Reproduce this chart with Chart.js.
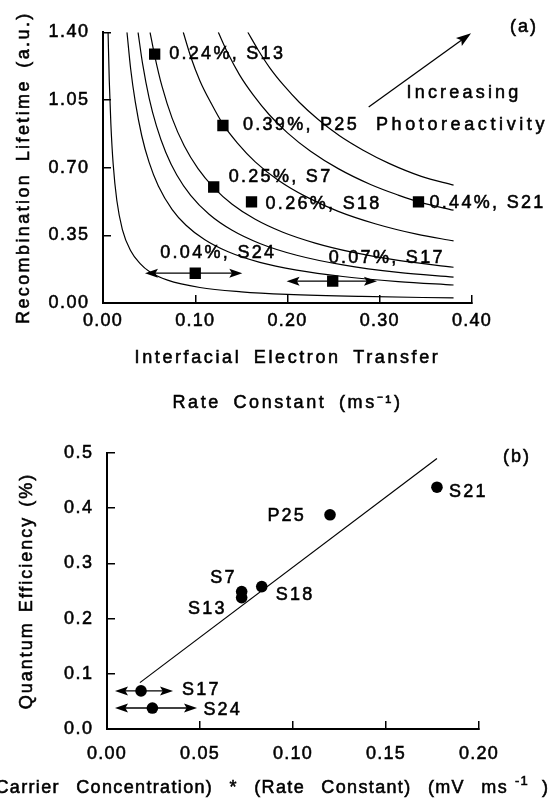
<!DOCTYPE html>
<html><head><meta charset="utf-8">
<script src="https://cdn.jsdelivr.net/npm/chart.js@4.4.1/dist/chart.umd.min.js"></script>
<style>
html,body{margin:0;padding:0;background:#fff;width:552px;height:800px;overflow:hidden;}
#ca{position:absolute;left:0;top:0;}
#cb{position:absolute;left:0;top:420px;}
</style></head><body>
<canvas id="cb" width="552" height="380"></canvas>
<canvas id="ca" width="552" height="430"></canvas>
<script>
// ================= Panel (a) data =================
const aXTicks = [0.00, 0.10, 0.20, 0.30, 0.40];
const aXTickLabels = ['0.00', '0.10', '0.20', '0.30', '0.40'];
const aYTicks = [0.00, 0.35, 0.70, 1.05, 1.40];
const aYTickLabels = ['0.00', '0.35', '0.70', '1.05', '1.40'];

// iso-photoreactivity curves, points [rate constant, lifetime]
const curve1 = [[0.0055,1.40],[0.0068,1.15],[0.0085,0.93],[0.011,0.72],[0.015,0.53],[0.021,0.38],[0.030,0.27],[0.040,0.205],[0.051,0.160],[0.070,0.118],[0.105,0.080],[0.150,0.058],[0.200,0.045],[0.280,0.034],[0.380,0.026]];
const curve2 = [[0.026,1.40],[0.030,1.21],[0.035,1.04],[0.042,0.865],[0.050,0.727],[0.060,0.605],[0.075,0.483],[0.090,0.402],[0.110,0.328],[0.135,0.266],[0.170,0.210],[0.210,0.170],[0.260,0.137],[0.320,0.111],[0.380,0.093]];
const curve3 = [[0.038,1.40],[0.043,1.235],[0.050,1.06],[0.058,0.915],[0.068,0.78],[0.080,0.662],[0.095,0.557],[0.115,0.459],[0.140,0.376],[0.170,0.308],[0.210,0.247],[0.260,0.197],[0.320,0.158],[0.380,0.134]];
const curve4 = [[0.051,1.40],[0.056,1.28],[0.064,1.12],[0.075,0.955],[0.088,0.813],[0.103,0.695],[0.120,0.597],[0.140,0.511],[0.165,0.433],[0.195,0.366],[0.230,0.310],[0.270,0.263],[0.320,0.220],[0.380,0.185]];
const curve5 = [[0.087,1.40],[0.095,1.275],[0.105,1.15],[0.117,1.035],[0.130,0.925],[0.146,0.826],[0.165,0.730],[0.190,0.635],[0.220,0.550],[0.255,0.474],[0.295,0.410],[0.340,0.356],[0.380,0.321]];
const curve6 = [[0.125,1.40],[0.135,1.295],[0.148,1.18],[0.163,1.075],[0.180,0.975],[0.200,0.880],[0.225,0.785],[0.255,0.695],[0.290,0.613],[0.320,0.558],[0.342,0.523],[0.380,0.480]];
const curve7 = [[0.157,1.40],[0.168,1.31],[0.181,1.215],[0.196,1.125],[0.213,1.037],[0.233,0.950],[0.256,0.866],[0.282,0.790],[0.310,0.722],[0.345,0.655],[0.380,0.610]];

const aSamples = ['S13', 'P25', 'S7', 'S18', 'S21', 'S24', 'S17'];
const aRate = [0.056, 0.130, 0.120, 0.161, 0.342, 0.100, 0.249];
const aLifetime = [1.287, 0.918, 0.600, 0.523, 0.523, 0.154, 0.113];
const aEfficiency = ['0.24%', '0.39%', '0.25%', '0.26%', '0.44%', '0.04%', '0.07%'];
const aRangeSamples = ['S24', 'S17'];
const aRangeLow = [0.0455, 0.199];
const aRangeHigh = [0.151, 0.297];
const trendArrowX = [0.288, 0.399];
const trendArrowY = [1.014, 1.395];

// ================= Panel (b) data =================
const bXTicks = [0.00, 0.05, 0.10, 0.15, 0.20];
const bXTickLabels = ['0.00', '0.05', '0.10', '0.15', '0.20'];
const bYTicks = [0.0, 0.1, 0.2, 0.3, 0.4, 0.5];
const bYTickLabels = ['0.0', '0.1', '0.2', '0.3', '0.4', '0.5'];
const bSamples = ['S21', 'P25', 'S18', 'S7', 'S13', 'S17', 'S24'];
const bProduct = [0.1774, 0.1199, 0.0832, 0.0724, 0.0724, 0.0183, 0.0244];
const bEfficiency = [0.438, 0.388, 0.258, 0.249, 0.238, 0.069, 0.038];
const bFitX = [0.0177, 0.1774];
const bFitY = [0.084, 0.490];
const bRangeSamples = ['S17', 'S24'];
const bRangeLow = [0.0043, 0.0043];
const bRangeHigh = [0.0355, 0.0484];

// ================= styles =================
const FAM = '"Liberation Sans", Arial, Helvetica, sans-serif';
const INK = '#000';
const TXT_STROKE = 0.55;
const aLabelPos = {S13:[14.5,0,'left'], P25:[20,0,'left'], S7:[15,-10,'left'], S18:[14,2,'left'], S21:[11,1,'left'], S24:[-35,-20,'left'], S17:[-4,-23,'left']};
const bLabelPos = {S21:[12,5,'left'], P25:[-24,1,'right'], S18:[14,8,'left'], S7:[-5,-14,'right'], S13:[-15,11,'right'], S17:[41,-1,'left'], S24:[51,2,'left']};

function drawText(ctx, s, x, y, align, size, ls, ws) {
  ctx.save();
  ctx.font = size + 'px ' + FAM;
  ctx.fillStyle = INK; ctx.strokeStyle = INK; ctx.lineWidth = TXT_STROKE;
  ctx.letterSpacing = (ls || 0) + 'px';
  ctx.wordSpacing = (ws || 0) + 'px';
  ctx.textAlign = align || 'left';
  ctx.textBaseline = 'middle';
  ctx.fillText(s, x, y);
  ctx.strokeText(s, x, y);
  ctx.restore();
}
function head(ctx, x, y, ang, len, half) {
  ctx.save();
  ctx.translate(x, y); ctx.rotate(ang);
  ctx.beginPath();
  ctx.moveTo(0, 0); ctx.lineTo(-len, -half); ctx.lineTo(-len * 0.8, 0); ctx.lineTo(-len, half);
  ctx.closePath(); ctx.fillStyle = INK; ctx.fill();
  ctx.restore();
}
function dblArrow(ctx, x1, x2, y) {
  ctx.save();
  ctx.strokeStyle = INK; ctx.lineWidth = 1.3;
  ctx.beginPath(); ctx.moveTo(x1 + 4, y); ctx.lineTo(x2 - 4, y); ctx.stroke();
  head(ctx, x2, y, 0, 13, 4.5);
  head(ctx, x1, y, Math.PI, 13, 4.5);
  ctx.restore();
}

function withText(c, ls, ws, fn, self, args) {
  c.save();
  c.letterSpacing = (ls || 0) + 'px';
  c.wordSpacing = (ws || 0) + 'px';
  c.fillText = function (t, x, y, m) {
    CanvasRenderingContext2D.prototype.fillText.call(this, t, x, y, m);
    const lw = this.lineWidth, ss = this.strokeStyle;
    this.lineWidth = TXT_STROKE; this.strokeStyle = INK;
    CanvasRenderingContext2D.prototype.strokeText.call(this, t, x, y, m);
    this.lineWidth = lw; this.strokeStyle = ss;
  };
  try { fn.apply(self, args); } finally { delete c.fillText; c.restore(); }
}
const spacingPlugin = {
  id: 'spacing',
  beforeDraw(chart, args, opts) {
    Object.values(chart.scales).forEach(s => {
      if (s._spw) return; s._spw = true;
      const cfg = opts[s.id] || {};
      const dT = s.drawTitle, dL = s.drawLabels;
      s.drawTitle = function () { withText(this.ctx, cfg.title, cfg.word, dT, this, arguments); };
      s.drawLabels = function () { withText(this.ctx, cfg.ticks, 0, dL, this, arguments); };
    });
  }
};

function axisCommon(min, max, ticks, labels, pad) {
  return {
    type: 'linear', min, max,
    afterBuildTicks: s => { s.ticks = ticks.map(v => ({ value: v })); },
    ticks: { callback: (v, i) => labels[i], padding: pad, color: INK, font: { family: FAM, size: 18 }, maxRotation: 0, autoSkip: false },
    grid: { display: true, drawOnChartArea: false, drawTicks: true, tickLength: -8, color: INK, lineWidth: 1.5 },
    border: { display: true, color: INK, width: 2 }
  };
}

// ================= Chart (a) =================
const annotA = {
  id: 'annotA',
  beforeDatasetsDraw(chart) {
    const ctx = chart.ctx, xs = chart.scales.x, ys = chart.scales.y;
    aRangeSamples.forEach((s, i) => {
      const k = aSamples.indexOf(s);
      dblArrow(ctx, xs.getPixelForValue(aRangeLow[i]), xs.getPixelForValue(aRangeHigh[i]), ys.getPixelForValue(aLifetime[k]));
    });
  },
  afterDatasetsDraw(chart) {
    const ctx = chart.ctx, xs = chart.scales.x, ys = chart.scales.y;
    aSamples.forEach((s, i) => {
      const p = aLabelPos[s];
      drawText(ctx, aEfficiency[i] + ', ' + s, xs.getPixelForValue(aRate[i]) + p[0], ys.getPixelForValue(aLifetime[i]) + p[1], p[2], 18, 2.3, 0);
    });
    const x1 = xs.getPixelForValue(trendArrowX[0]), y1 = ys.getPixelForValue(trendArrowY[0]);
    const x2 = xs.getPixelForValue(trendArrowX[1]), y2 = ys.getPixelForValue(trendArrowY[1]);
    const ang = Math.atan2(y2 - y1, x2 - x1);
    ctx.save(); ctx.strokeStyle = INK; ctx.lineWidth = 1.3;
    ctx.beginPath(); ctx.moveTo(x1, y1); ctx.lineTo(x2 - 6 * Math.cos(ang), y2 - 6 * Math.sin(ang)); ctx.stroke();
    head(ctx, x2, y2, ang, 15, 5);
    ctx.restore();
    drawText(ctx, 'Increasing', 464, 93, 'center', 18, 3.2, 0);
    drawText(ctx, 'Photoreactivity', 462, 125, 'center', 18, 3.6, 0);
    drawText(ctx, '(a)', 524, 27, 'center', 18, 2, 0);
  }
};

const curves = [curve1, curve2, curve3, curve4, curve5, curve6, curve7];
new Chart(document.getElementById('ca'), {
  type: 'scatter',
  data: {
    datasets: [
      { data: aRate.map((x, i) => ({ x, y: aLifetime[i] })), pointStyle: 'rect', pointRadius: 8, backgroundColor: INK, borderColor: INK, borderWidth: 0, showLine: false }
    ].concat(curves.map(c => ({ data: c.map(p => ({ x: p[0], y: p[1] })), showLine: true, pointRadius: 0, borderColor: INK, borderWidth: 1.2, cubicInterpolationMode: 'monotone', fill: false })))
  },
  options: {
    responsive: false, animation: false, devicePixelRatio: 1,
    layout: { padding: { left: 0, top: 31, right: 80, bottom: 4.5 } },
    plugins: { legend: { display: false }, tooltip: { enabled: false },
      spacing: { x: { title: 2.6, word: 5, ticks: 1.2 }, y: { title: 2.4, word: 4, ticks: 1.5 } } },
    scales: {
      x: Object.assign(axisCommon(0, 0.4, aXTicks, aXTickLabels, 15.2), {
        title: { display: true, text: ['Interfacial Electron Transfer', 'Rate Constant (ms\u207B\u00B9)'], color: INK, font: { family: FAM, size: 18, lineHeight: 2.5 }, padding: { top: 0, bottom: 0 } },
        afterFit: s => { s.height = 122.5; }
      }),
      y: Object.assign(axisCommon(0, 1.4, aYTicks, aYTickLabels, 21.5), {
        title: { display: true, text: 'Recombination Lifetime (a.u.)', color: INK, font: { family: FAM, size: 18, lineHeight: 1.2 }, padding: { top: 13.2, bottom: 0 } },
        afterFit: s => { s.width = 103; }
      })
    }
  },
  plugins: [spacingPlugin, annotA]
});

// ================= Chart (b) =================
const annotB = {
  id: 'annotB',
  beforeDatasetsDraw(chart) {
    const ctx = chart.ctx, xs = chart.scales.x, ys = chart.scales.y;
    bRangeSamples.forEach((s, i) => {
      const k = bSamples.indexOf(s);
      dblArrow(ctx, xs.getPixelForValue(bRangeLow[i]), xs.getPixelForValue(bRangeHigh[i]), ys.getPixelForValue(bEfficiency[k]));
    });
  },
  afterDatasetsDraw(chart) {
    const ctx = chart.ctx, xs = chart.scales.x, ys = chart.scales.y;
    bSamples.forEach((s, i) => {
      const p = bLabelPos[s];
      drawText(ctx, s, xs.getPixelForValue(bProduct[i]) + p[0], ys.getPixelForValue(bEfficiency[i]) + p[1], p[2], 18, 2.2, 0);
    });
    drawText(ctx, '(b)', 517, 37, 'center', 18, 2, 0);
    // x-axis title (clipped at the left edge, as in the figure)
    drawText(ctx, ')', 548, 368, 'right', 18, 0, 0);
    drawText(ctx, '-1', 529, 361, 'right', 13, 1.2, 0);
    drawText(ctx, '(Carrier Concentration) * (Rate Constant) (mV ms', 508, 368, 'right', 18, 1.35, 10);
  }
};

new Chart(document.getElementById('cb'), {
  type: 'scatter',
  data: {
    datasets: [
      { data: bProduct.map((x, i) => ({ x, y: bEfficiency[i] })), pointStyle: 'circle', pointRadius: 5.8, backgroundColor: INK, borderColor: INK, borderWidth: 0, showLine: false },
      { data: bFitX.map((x, i) => ({ x, y: bFitY[i] })), showLine: true, pointRadius: 0, borderColor: INK, borderWidth: 1.2, fill: false }
    ]
  },
  options: {
    responsive: false, animation: false, devicePixelRatio: 1,
    layout: { padding: { left: 0, top: 33, right: 73, bottom: 2 } },
    plugins: { legend: { display: false }, tooltip: { enabled: false },
      spacing: { x: { ticks: 1.2 }, y: { title: 2.0, word: 2, ticks: 1.5 } } },
    scales: {
      x: Object.assign(axisCommon(0, 0.2, bXTicks, bXTickLabels, 22.7), {
        title: { display: false },
        afterFit: s => { s.height = 69; }
      }),
      y: Object.assign(axisCommon(0, 0.5, bYTicks, bYTickLabels, 21.5), {
        title: { display: true, text: 'Quantum Efficiency (%)', color: INK, font: { family: FAM, size: 18, lineHeight: 1.2 }, padding: { top: 16.2, bottom: 0 } },
        afterFit: s => { s.width = 107; }
      })
    }
  },
  plugins: [spacingPlugin, annotB]
});
</script>
</body></html>
